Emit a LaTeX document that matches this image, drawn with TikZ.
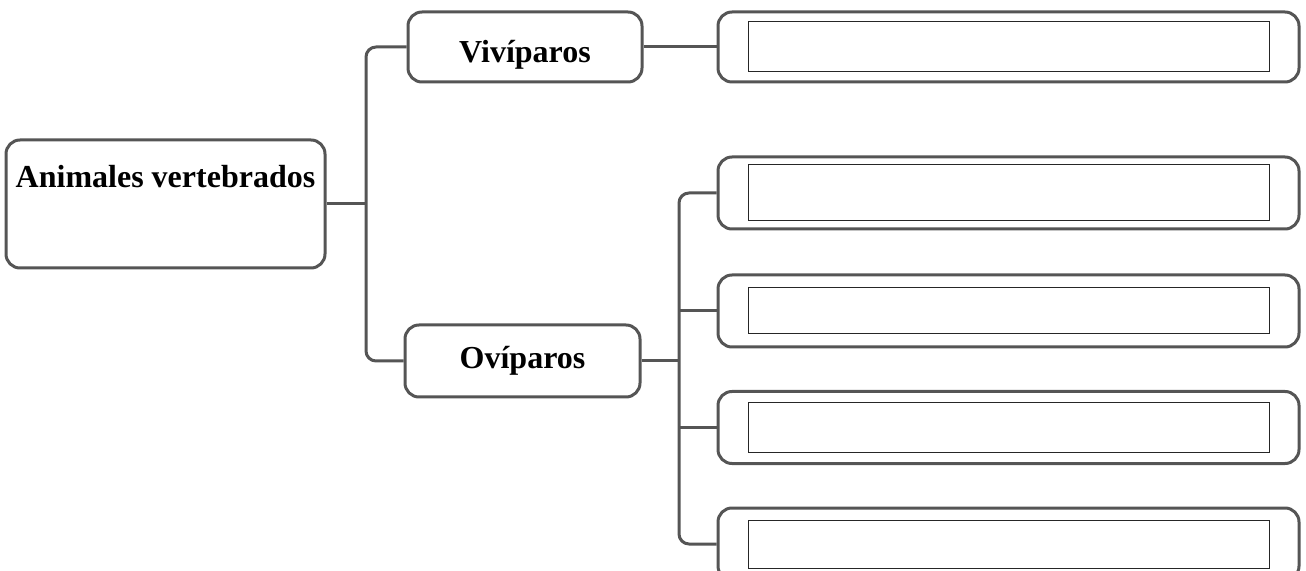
\documentclass[tikz,border=0pt]{standalone}
\usepackage{fontspec}
\setmainfont{Liberation Serif}
\usepackage{tikz}
\usetikzlibrary{positioning}

\definecolor{edgegray}{HTML}{555555}

\begin{document}
\begin{tikzpicture}[x=0.5pt, y=-0.5pt,
  box/.style={draw=edgegray, line width=1.5pt, rounded corners=7pt, fill=white,
    font=\fontsize{16}{19}\selectfont\bfseries, inner sep=0pt},
  slot/.style={draw=black!85, line width=0.5pt, inner sep=0pt,
    minimum width=260.5pt, minimum height=25pt},
  link/.style={draw=edgegray, line width=1.5pt, rounded corners=5pt}]

\useasboundingbox (0,0) rectangle (1306,571);

% left part
\node[box, minimum width=159.5pt, minimum height=64pt,
  text height=11pt, text depth=27pt] (root) at (165.5,204) {Animales vertebrados};
\node[box, minimum width=117pt, minimum height=35pt,
  text height=19pt, text depth=3pt] (viv) at (525,47) {Viv\'iparos};
\node[box, minimum width=117.5pt, minimum height=36pt] (ovi) at (522.5,361) {Ov\'iparos};

% boxes on the right
\node[box, minimum width=290.5pt, minimum height=35pt] (b1) at (1008.5,47) {};
\node[box, minimum width=290.5pt, minimum height=36pt] (b2) at (1008.5,193) {};
\node[box, minimum width=290.5pt, minimum height=36pt] (b3) at (1008.5,311) {};
\node[box, minimum width=290.5pt, minimum height=36pt] (b4) at (1008.5,427.5) {};
\node[box, minimum width=290.5pt, minimum height=36pt] (b5) at (1008.5,544) {};

\node[slot] (s1) at (b1.center) {};
\node[slot, minimum height=28pt] (s2) at (b2.center) {};
\node[slot, minimum height=23pt] (s3) at (b3.center) {};
\node[slot] (s4) at (b4.center) {};
\node[slot, minimum height=24pt] (s5) at (b5.center) {};

\coordinate (j1) at (366,204);
\coordinate (j2) at (679,361);

% connectors
\draw[link] (root) -- (j1);
\draw[link] (viv.west) -| (j1) |- (ovi.west);
\draw[link] (viv.east) -- (b1.west);

\draw[link] (ovi.east) -- (j2);
\draw[link] (b2.west) -| (j2) |- (b5.west);
\draw[link] (j2 |- b3.west) -- (b3.west);
\draw[link] (j2 |- b4.west) -- (b4.west);

\end{tikzpicture}
\end{document}
